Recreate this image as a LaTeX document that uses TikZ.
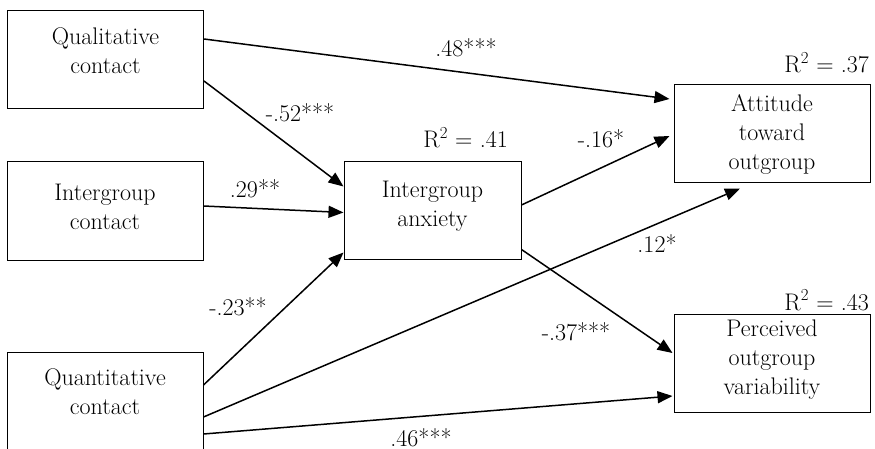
\documentclass[tikz,border=0pt]{standalone}
\usetikzlibrary{arrows.meta}
\begin{document}
\begin{tikzpicture}[x=1pt,y=-1pt,
  every node/.style={font=\fontsize{24}{29}\selectfont},
  box/.style={draw,line width=1pt,inner sep=0pt,minimum width=196pt,minimum height=98pt},
  txt/.style={inner sep=0pt,align=center},
  conn/.style={line width=1.5pt,-{Triangle[length=15pt,width=12pt]}},
  lab/.style={anchor=base,inner sep=0pt},
  rsq/.style={anchor=base east,inner sep=0pt}]
\useasboundingbox (0,0) rectangle (875,449);
% boxes
\node[box] (qual) at (105.5,60) {};
\node[box] (ic) at (105,211) {};
\node[box] (quan) at (105,401) {};
\node[box,minimum width=177pt,minimum height=97pt] (anx) at (432.5,210.5) {};
\node[box] (att) at (772,134) {};
\node[box] (perc) at (772,363) {};
% box texts
\node[txt] (qualt) at ([yshift=8.8pt]qual.center) {Qualitative\\contact};
\node[txt] (ict) at ([yshift=4.5pt]ic.center) {Intergroup\\contact};
\node[txt] (quant) at ([yshift=9.5pt]quan.center) {Quantitative\\contact};
\node[txt] (anxt) at ([yshift=4.5pt]anx.center) {Intergroup\\anxiety};
\node[txt] (attt) at (att.center) {Attitude\\toward\\outgroup};
\node[txt] (perct) at ([yshift=3pt]perc.center) {Perceived\\outgroup\\variability};
% R squared
\node[rsq] (r37) at (869,73) {R\textsuperscript{2} = .37};
\node[rsq] (r41) at (508,148) {R\textsuperscript{2} = .41};
\node[rsq] (r43) at (869,310) {R\textsuperscript{2} = .43};
% connectors
\draw[conn] ([yshift=21pt]qual.east) -- ([xshift=-4pt,yshift=35pt]att.west);
\draw[conn] ([yshift=-21pt]qual.east) -- ([yshift=24pt]anx.west);
\draw[conn] ([yshift=5pt]ic.east) -- ([yshift=-2pt]anx.west);
\draw[conn] ([yshift=5.5pt]anx.east) -- ([xshift=-4pt,yshift=-2pt]att.west);
\draw[conn] ([yshift=16pt]quan.east) -- ([yshift=7pt]anx.south west);
\draw[conn] ([yshift=-16pt]quan.east) -- ([xshift=-32pt,yshift=-5pt]att.south);
\draw[conn] ([yshift=10pt]anx.south east) -- ([xshift=-1pt,yshift=10pt]perc.west);
\draw[conn] ([yshift=-33pt]quan.east) -- ([xshift=-1pt,yshift=-33pt]perc.west);
% path labels
\node[lab] (l48) at (466,57) {.48***};
\node[lab] (l52) at (300,122) {-.52***};
\node[lab] (l29) at (255,198) {.29**};
\node[lab] (l16) at (601,148) {-.16*};
\node[lab] (l12) at (657,252) {.12*};
\node[lab] (l23) at (238,315) {-.23**};
\node[lab] (l37) at (576,340) {-.37***};
\node[lab] (l46) at (421,446) {.46***};
\end{tikzpicture}
\end{document}
